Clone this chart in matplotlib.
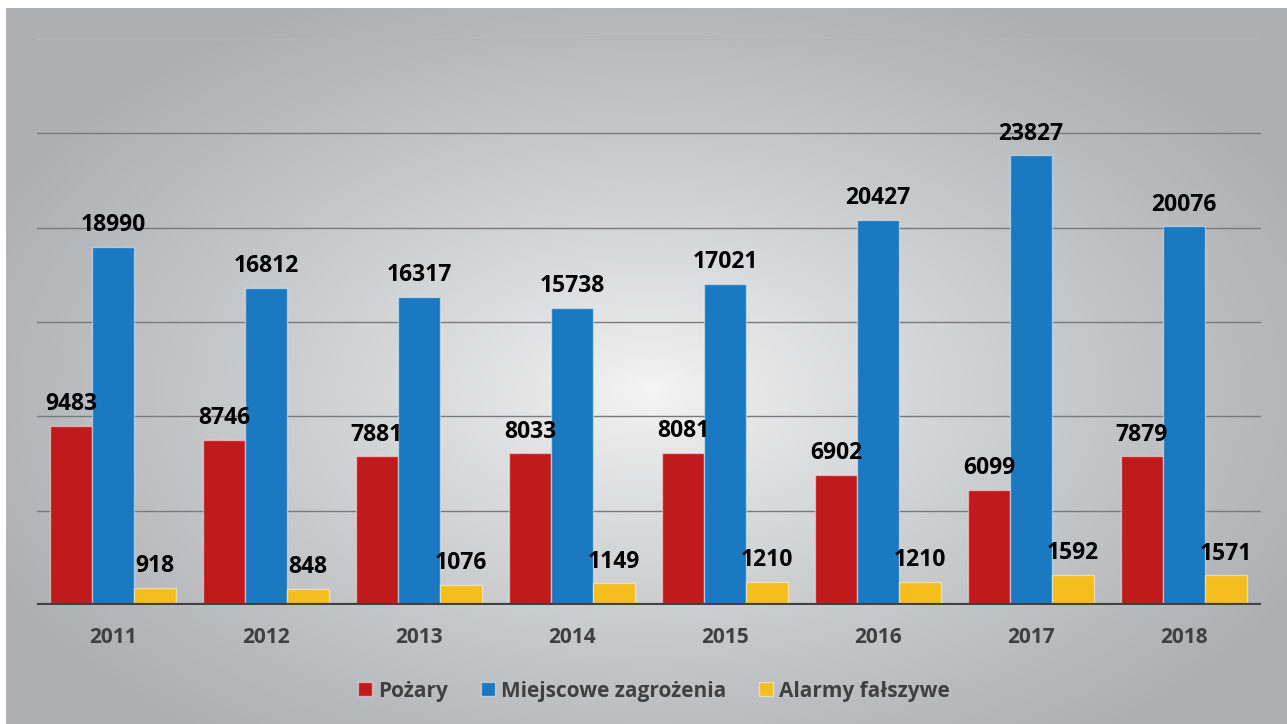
import matplotlib.pyplot as plt
import numpy as np
from matplotlib.patches import Patch

years = ['2011', '2012', '2013', '2014', '2015', '2016', '2017', '2018']
pozary = [9483, 8746, 7881, 8033, 8081, 6902, 6099, 7879]
miejscowe = [18990, 16812, 16317, 15738, 17021, 20427, 23827, 20076]
alarmy = [918, 848, 1076, 1149, 1210, 1210, 1592, 1571]
series_names = ['Pożary', 'Miejscowe zagrożenia', 'Alarmy fałszywe']
colors = ['#C11A1D', '#1B79C1', '#F4BE1F']

plt.rcParams['font.family'] = ['Open Sans', 'DejaVu Sans']

W, H = 1287, 724
fig = plt.figure(figsize=(W / 100, H / 100), dpi=100)

# radial grey gradient panel behind the chart
bg = fig.add_axes([0, 0, 1, 1], zorder=-2)
yy, xx = np.mgrid[0:H, 0:W]
r = np.sqrt(((xx - 650) / 720.0) ** 2 + ((yy - 390) / 430.0) ** 2)
t = np.clip(r, 0, 1) ** 0.8
c0 = np.array([0.965, 0.965, 0.965])
c1 = np.array([0.685, 0.690, 0.705])
img = c0[None, None, :] * (1 - t[..., None]) + c1[None, None, :] * t[..., None]
img[:8, :, :] = 1.0
img[:, :6, :] = 1.0
bg.imshow(img, extent=[0, W, H, 0], aspect='auto', interpolation='bilinear')
bg.set_xlim(0, W); bg.set_ylim(H, 0)
bg.axis('off')

ax = fig.add_axes([36.5 / W, 1 - 605 / H, 1224 / W, 566 / H])
ax.set_facecolor('none')

x = np.arange(len(years))
bw = 0.275
for i, (vals, col) in enumerate(zip([pozary, miejscowe, alarmy], colors)):
    bars = ax.bar(x + (i - 1) * bw, vals, bw, color=col,
                  edgecolor=(1, 1, 1, 0.45), linewidth=1, zorder=3)
    for b, v in zip(bars, vals):
        ax.annotate(str(v), (b.get_x() + b.get_width() / 2, v),
                    xytext=(0, 7), textcoords='offset points',
                    ha='center', va='bottom', fontsize=16.5,
                    fontweight='bold', color='black', zorder=4)

ax.set_xlim(-0.5, len(years) - 0.5)
ax.set_ylim(0, 30000)
for g in [5000, 10000, 15000, 20000, 25000]:
    ax.axhline(g, color='#7a7a7c', lw=1, zorder=1)
ax.axhline(30000, color='#b4b5b8', lw=1, zorder=1)
ax.axhline(0, color='#404040', lw=3, zorder=5)

for s in ax.spines.values():
    s.set_visible(False)
ax.set_yticks([])
ax.set_xticks(x)
ax.set_xticklabels(years, fontsize=15, fontweight='bold', color='#404040')
ax.tick_params(axis='x', length=0, pad=16)

handles = [Patch(facecolor=c, edgecolor=(1, 1, 1, 0.45)) for c in colors]
leg = fig.legend(handles, series_names, loc='center', ncol=3,
                 bbox_to_anchor=(654 / W, 1 - 691 / H), frameon=False,
                 handlelength=0.65, handleheight=0.65, handletextpad=0.3,
                 columnspacing=1.6, prop={'size': 15, 'weight': 'bold'})
for txt in leg.get_texts():
    txt.set_color('#404040')

fig.savefig('out.png', dpi=100)
